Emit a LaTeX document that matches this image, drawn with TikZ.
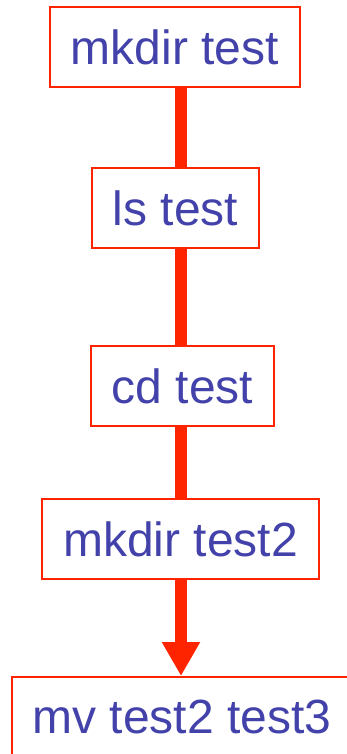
\documentclass[tikz,border=0pt]{standalone}
\usepackage{fontspec}
\setmainfont{Liberation Sans}
\usetikzlibrary{arrows.meta}
\definecolor{flowred}{RGB}{255,36,0}
\definecolor{cmdblue}{RGB}{66,66,170}
\tikzset{
  cmdbox/.style={draw=flowred, line width=2pt, fill=white, inner sep=0pt,
    minimum height=80pt, text=cmdblue,
    font=\fontsize{48}{57}\selectfont},
  conn/.style={draw=flowred, line width=11.5pt}
}
\begin{document}
\begin{tikzpicture}[x=1pt,y=-1pt]
  \useasboundingbox (0,0) rectangle (347,754);
  % command boxes, top to bottom
  \node[cmdbox, minimum width=250pt] (b1) at (175,47) {mkdir test};
  \node[cmdbox, minimum width=167pt] (b2) at (175.5,208) {ls test};
  \node[cmdbox, minimum width=183pt] (b3) at (182.5,386) {cd test};
  \node[cmdbox, minimum width=277pt] (b4) at (180.5,539) {mkdir test2};
  \node[cmdbox, minimum width=340pt] (b5) at (182,717) {mv test2 test3\hspace{11pt}};
  % vertical spine of the flow
  \coordinate (sh) at (181,0);
  \draw[conn] (b1.south -| sh) -- (b2.north -| sh);
  \draw[conn] (b2.south -| sh) -- (b3.north -| sh);
  \draw[conn] (b3.south -| sh) -- (b4.north -| sh);
  \draw[conn, -{Triangle[width=36pt,length=34pt]}] (b4.south -| sh) -- (b5.north -| sh);
\end{tikzpicture}
\end{document}
